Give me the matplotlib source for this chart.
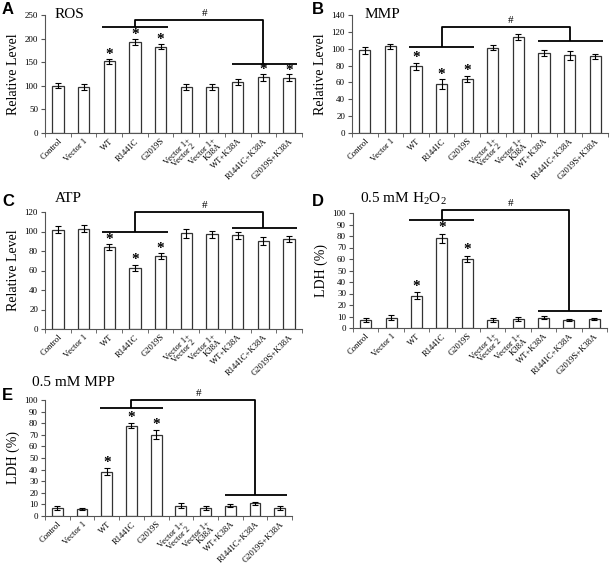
import matplotlib
matplotlib.use('Agg')
import matplotlib.pyplot as plt
import numpy as np

plt.rcParams['font.family'] = 'Liberation Serif'

groups = ['Control', 'Vector 1', 'WT', 'R1441C', 'G2019S', 'Vector 1+\nVector 2',
          'Vector 1+\nK38A', 'WT+K38A', 'R1441C+K38A', 'G2019S+K38A']

# panel values (mean, error)
ros = [100, 98, 152, 193, 183, 97, 98, 108, 118, 117]
ros_err = [5, 6, 5, 7, 6, 6, 6, 7, 8, 7]
mmp = [98, 103, 79, 58, 64, 101, 114, 95, 92, 91]
mmp_err = [4, 3, 4, 6, 4, 3, 4, 4, 5, 3]
atp = [102, 103, 84, 63, 75, 98, 97, 96, 90, 92]
atp_err = [4, 4, 3, 3, 3, 5, 4, 4, 4, 3]
ldh_h2o2 = [7, 9, 28, 78, 60, 7, 8, 9, 7, 8]
ldh_h2o2_err = [1.5, 2, 3, 4, 3, 1.5, 1.5, 1.5, 1, 1]
ldh_mpp = [7, 6, 38, 78, 70, 9, 7, 9, 11, 7]
ldh_mpp_err = [1.5, 1, 3, 2, 4, 2, 2, 1.5, 1.5, 1.5]

# asterisks
stars_ros = [2, 3, 4, 8, 9]
stars_other = [2, 3, 4]

# bracket levels: (left group line, top, right group line)
br_ros = (224, 239, 146)
br_mmp = (102, 126, 109)
br_atp = (99, 120, 104)
br_h2o2 = (94, 103, 15)
br_mpp = (93, 100, 18)

W, H = 610, 565
fig = plt.figure(figsize=(W / 100, H / 100), dpi=100)


def make_ax(x0, y0, x1, y1):
    return fig.add_axes([x0 / W, 1 - y1 / H, (x1 - x0) / W, (y1 - y0) / H])


def panel(ax, vals, errs, ymax, ystep, ylabel, stars, br, star_off):
    x = np.arange(len(vals))
    ax.bar(x, vals, width=0.44, color='white', edgecolor='#333333', linewidth=0.9,
           yerr=errs, capsize=2, error_kw={'elinewidth': 0.8, 'capthick': 0.8, 'ecolor': 'black'})
    ax.set_xlim(-0.5, len(vals) - 0.5)
    ax.set_ylim(0, ymax)
    ax.set_yticks(np.arange(0, ymax + 1, ystep))
    ax.spines['top'].set_visible(False)
    ax.spines['right'].set_visible(False)
    ax.spines['left'].set_color('#555555')
    ax.spines['bottom'].set_color('#555555')
    ax.set_xticks(x)
    ax.set_xticklabels(groups, rotation=45, ha='right', rotation_mode='anchor',
                       fontsize=6.2, linespacing=0.85)
    ax.tick_params(axis='x', which='major', length=0, pad=3)
    ax.set_xticks(np.arange(-0.5, len(vals), 1), minor=True)
    ax.tick_params(axis='x', which='minor', length=3, color='#555555')
    ax.tick_params(axis='y', labelsize=6.5, length=3, color='#555555', pad=2)
    ax.set_ylabel(ylabel, fontsize=10, labelpad=3)
    for i in stars:
        ax.text(i, vals[i] + errs[i] + star_off, '*', ha='center', va='center',
                fontsize=11, fontweight='bold')
    lo, top, hi = br
    kw = dict(color='black', lw=1.3, clip_on=False, solid_capstyle='butt')
    ax.plot([1.72, 4.28], [lo, lo], **kw)
    ax.plot([6.78, 9.3], [hi, hi], **kw)
    ax.plot([3, 3, 8, 8], [lo, top, top, hi], **kw)
    ax.text(5.7, top + ymax * 0.015, '#', ha='center', va='bottom', fontsize=8)


axA = make_ax(45, 15, 302, 133)
panel(axA, ros, ros_err, 250, 50, 'Relative Level', stars_ros, br_ros, 9)
axB = make_ax(352, 15, 608, 133)
panel(axB, mmp, mmp_err, 140, 20, 'Relative Level', stars_other, br_mmp, 6)
axC = make_ax(45, 212, 302, 329)
panel(axC, atp, atp_err, 120, 20, 'Relative Level', stars_other, br_atp, 5)
axD = make_ax(353, 213, 607, 328)
panel(axD, ldh_h2o2, ldh_h2o2_err, 100, 10, 'LDH (%)', stars_other, br_h2o2, 5)
axE = make_ax(45, 400, 292, 516)
panel(axE, ldh_mpp, ldh_mpp_err, 100, 10, 'LDH (%)', stars_other, br_mpp, 5)

# panel titles
fig.text(55 / W, 1 - 14 / H, 'ROS', fontsize=11, va='center')
fig.text(365 / W, 1 - 14 / H, 'MMP', fontsize=11, va='center')
fig.text(55 / W, 1 - 199 / H, 'ATP', fontsize=11, va='center')
fig.text(360 / W, 1 - 199 / H, r'0.5 mM $\mathregular{H_2O_2}$', fontsize=11, va='center')
fig.text(32 / W, 1 - 383 / H, '0.5 mM MPP', fontsize=11, va='center')

# panel letters
for lab, px, py in [('A', 2, 9), ('B', 312, 9), ('C', 2, 201), ('D', 312, 201), ('E', 2, 396)]:
    fig.text(px / W, 1 - py / H, lab, fontsize=12, fontweight='bold',
             family='Liberation Sans', va='center')

fig.savefig('out.png', dpi=100)
